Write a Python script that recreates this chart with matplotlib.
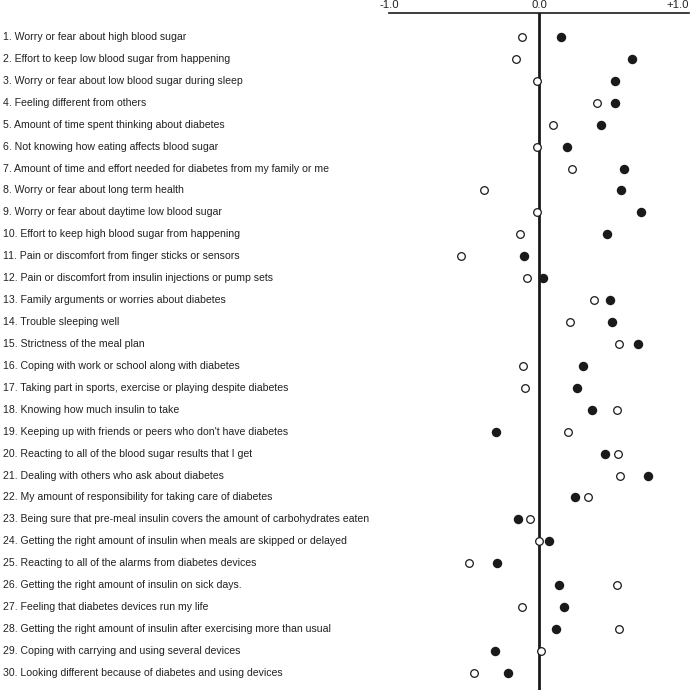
import matplotlib.pyplot as plt
import matplotlib.transforms as mtransforms

plt.rcParams['font.family'] = ['Liberation Sans', 'DejaVu Sans']

items = [
    "Worry or fear about high blood sugar",
    "Effort to keep low blood sugar from happening",
    "Worry or fear about low blood sugar during sleep",
    "Feeling different from others",
    "Amount of time spent thinking about diabetes",
    "Not knowing how eating affects blood sugar",
    "Amount of time and effort needed for diabetes from my family or me",
    "Worry or fear about long term health",
    "Worry or fear about daytime low blood sugar",
    "Effort to keep high blood sugar from happening",
    "Pain or discomfort from finger sticks or sensors",
    "Pain or discomfort from insulin injections or pump sets",
    "Family arguments or worries about diabetes",
    "Trouble sleeping well",
    "Strictness of the meal plan",
    "Coping with work or school along with diabetes",
    "Taking part in sports, exercise or playing despite diabetes",
    "Knowing how much insulin to take",
    "Keeping up with friends or peers who don't have diabetes",
    "Reacting to all of the blood sugar results that I get",
    "Dealing with others who ask about diabetes",
    "My amount of responsibility for taking care of diabetes",
    "Being sure that pre-meal insulin covers the amount of carbohydrates eaten",
    "Getting the right amount of insulin when meals are skipped or delayed",
    "Reacting to all of the alarms from diabetes devices",
    "Getting the right amount of insulin on sick days.",
    "Feeling that diabetes devices run my life",
    "Getting the right amount of insulin after exercising more than usual",
    "Coping with carrying and using several devices",
    "Looking different because of diabetes and using devices",
]

# filled circles
filled = [0.15, 0.62, 0.51, 0.51, 0.415, 0.19, 0.565, 0.55, 0.68, 0.455,
          -0.10, 0.03, 0.475, 0.49, 0.66, 0.293, 0.253, 0.355, -0.285, 0.443,
          0.725, 0.243, -0.142, 0.07, -0.283, 0.135, 0.17, 0.113, -0.29, -0.205]
# open circles
hollow = [-0.11, -0.15, -0.01, 0.385, 0.093, -0.01, 0.22, -0.365, -0.01, -0.125,
          -0.52, -0.08, 0.37, 0.21, 0.535, -0.107, -0.09, 0.52, 0.195, 0.53,
          0.54, 0.33, -0.058, 0.0, -0.467, 0.517, -0.11, 0.533, 0.013, -0.43]

ticks = [-1.0, 0.0, 1.0]
tick_labels = ["-1.0", "0.0", "+1.0"]

W, H = 692, 690
fig = plt.figure(figsize=(W / 100, H / 100), dpi=100)
ax = fig.add_axes([389 / W, 0, 300 / W, 1 - 13 / H])

rows = list(range(1, len(items) + 1))
ax.set_xlim(-1, 1)
ax.set_ylim(30.78, -0.094)

ax.axvline(0, color='#1a1a1a', lw=2.0, zorder=1)
for s in ['left', 'right', 'bottom']:
    ax.spines[s].set_visible(False)
ax.spines['top'].set_linewidth(1.2)
ax.spines['top'].set_color('#1a1a1a')
ax.set_yticks([])
ax.set_xticks([])

# tick labels sit just above the top line
xt = ax.get_xaxis_transform()
for t, lab in zip(ticks, tick_labels):
    ha = 'right' if t > 0 else 'center'
    ax.text(t, 1 + 3 / 677, lab, ha=ha, va='bottom', fontsize=8.2,
            color='#222222', transform=xt, clip_on=False)

ax.plot(hollow, rows, 'o', ms=5.5, mfc='white', mec='#1a1a1a', mew=0.9,
        linestyle='none', zorder=3, clip_on=False)
ax.plot(filled, rows, 'o', ms=6.8, mfc='#1a1a1a', mec='#1a1a1a', mew=0,
        linestyle='none', zorder=4, clip_on=False)

trans = mtransforms.blended_transform_factory(fig.transFigure, ax.transData)
for i, lab in enumerate(items):
    ax.text(3 / W, rows[i], f"{i + 1}. {lab}", ha='left', va='center',
            fontsize=7.6, color='#222222', transform=trans, clip_on=False)

fig.savefig("out.png", dpi=100)
